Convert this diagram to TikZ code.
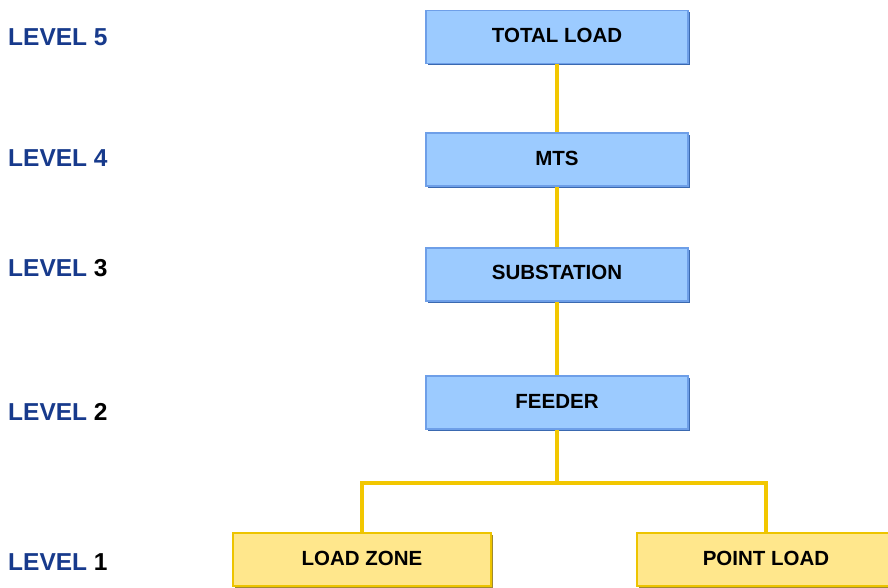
\documentclass[tikz,border=0pt]{standalone}
\usepackage{fontspec}
\setmainfont{Liberation Sans}
\usetikzlibrary{shadows}
\definecolor{boxblue}{HTML}{9CCBFF}
\definecolor{edgeblue}{HTML}{6E9FE8}
\definecolor{shadeblue}{HTML}{3A69B0}
\definecolor{boxyellow}{HTML}{FFE78C}
\definecolor{edgeyellow}{HTML}{EDC400}
\definecolor{shadeyellow}{HTML}{A08A30}
\definecolor{linegold}{HTML}{F2C700}
\definecolor{levelblue}{HTML}{173A8C}
\tikzset{
  bluebox/.style={draw=edgeblue, line width=1.6pt, fill=boxblue, rectangle,
    minimum width=262pt, minimum height=53pt, inner sep=0pt,
    font=\fontsize{20.5}{22}\selectfont\bfseries,
    general shadow={fill=shadeblue, shadow xshift=1.6pt, shadow yshift=-1.8pt}},
  yellowbox/.style={draw=edgeyellow, line width=2.4pt, fill=boxyellow, rectangle,
    minimum width=258pt, minimum height=53pt, inner sep=0pt,
    font=\fontsize{20.5}{22}\selectfont\bfseries,
    general shadow={fill=shadeyellow, shadow xshift=1.6pt, shadow yshift=-1.8pt}},
  levellabel/.style={anchor=west, text=levelblue, inner sep=0pt,
    font=\fontsize{24.5}{26}\selectfont\bfseries},
  conn/.style={draw=linegold, line width=4pt}
}
\begin{document}
\begin{tikzpicture}[x=1pt,y=-1pt]
\useasboundingbox[fill=white] (0,0) rectangle (888,588);
\begin{scope}
\clip (0,0) rectangle (888,588);
% boxes
\node[bluebox] (total) at (557,37) {\raisebox{4pt}{TOTAL LOAD}};
\node[bluebox] (mts) at (557,159.5) {\raisebox{2pt}{MTS}};
\node[bluebox] (sub) at (557,274.5) {\raisebox{4pt}{SUBSTATION}};
\node[bluebox] (feeder) at (557,402.5) {\raisebox{3pt}{FEEDER}};
\node[yellowbox] (lz) at (362,559.5) {\raisebox{3pt}{LOAD ZONE}};
\node[yellowbox] (pl) at (766,559.5) {\raisebox{2pt}{POINT LOAD}};
% connectors
\coordinate (fork) at (557,483);
\draw[conn] (total.south) -- (mts.north);
\draw[conn] (mts.south) -- (sub.north);
\draw[conn] (sub.south) -- (feeder.north);
\draw[conn] (feeder.south) -- (fork);
\draw[conn, line join=miter] (fork) -| (lz.north);
\draw[conn, line join=miter] (fork) -| (pl.north);
% level labels
\node[levellabel] (l5) at (8,37) {LEVEL 5};
\node[levellabel] (l4) at (8,158) {LEVEL 4};
\node[levellabel] (l3) at (8,268) {LEVEL \textcolor{black}{3}};
\node[levellabel] (l2) at (8,412) {LEVEL \textcolor{black}{2}};
\node[levellabel] (l1) at (8,562) {LEVEL \textcolor{black}{1}};
\end{scope}
\end{tikzpicture}
\end{document}
